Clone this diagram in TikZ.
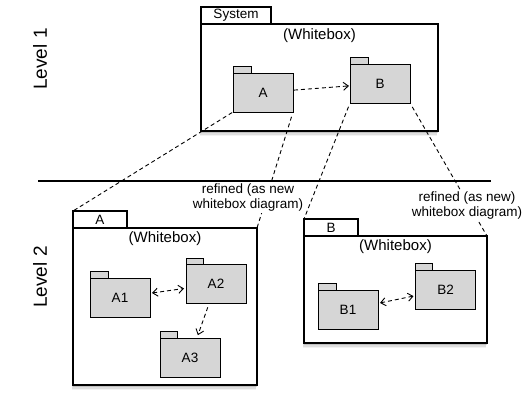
\documentclass[tikz,border=0pt]{standalone}
\usepackage{fontspec}
\setmainfont{Liberation Sans}
\usetikzlibrary{arrows.meta,shadows,calc}
\definecolor{pkggray}{RGB}{214,214,214}
\begin{document}
\begin{tikzpicture}[x=1pt,y=-1pt,
  pkgbody/.style={draw, fill=pkggray, line width=1pt, inner sep=0pt, outer sep=0pt,
    minimum width=60pt, minimum height=39pt, font=\fontsize{13.5}{14}\selectfont},
  pkgtab/.style={draw, fill=pkggray, line width=1pt},
  framebody/.style={draw, fill=white, line width=1.2pt, inner sep=0pt, outer sep=0pt, anchor=north west,
    drop shadow={shadow xshift=-1.5pt, shadow yshift=-5pt, opacity=0.10},
    drop shadow={shadow xshift=-1pt, shadow yshift=-3.5pt, opacity=0.18},
    drop shadow={shadow xshift=-0.5pt, shadow yshift=-2pt, opacity=0.30}},
  frametab/.style={draw, fill=white, line width=1.2pt, inner sep=0pt, outer sep=0pt, anchor=south west,
    minimum height=17pt, font=\fontsize{13.5}{14}\selectfont},
  wbox/.style={font=\fontsize{15}{16}\selectfont},
  level/.style={rotate=90, font=\fontsize{19}{20}\selectfont},
  refinelabel/.style={fill=white, align=center, inner sep=1.5pt, font=\fontsize{13.5}{15}\selectfont},
  refine/.style={line width=0.9pt, dash pattern=on 4pt off 3pt},
  dep/.style={line width=0.9pt, dash pattern=on 4pt off 3pt, -{Straight Barb[length=5pt,width=8pt]}},
  bidep/.style={line width=0.9pt, dash pattern=on 4pt off 3pt, {Straight Barb[length=5pt,width=8pt]}-{Straight Barb[length=5pt,width=8pt]}}
]
\useasboundingbox (0,0) rectangle (527,402);

% Level labels
\node[level] (lv1) at (40,59) {Level 1};
\node[level] (lv2) at (40,277) {Level 2};

% separator
\coordinate (hlL) at (38,181);
\coordinate (hlR) at (491,181);
\draw[line width=2pt] (hlL) -- (hlR);

% ---- System frame
\node[framebody, minimum width=237pt, minimum height=107pt] (sys) at (201,24) {};
\node[frametab, minimum width=70pt] (systab) at (sys.north west) {System};
\node[wbox] (syswb) at ($(sys.north)+(0,12)$) {(Whitebox)};
\node[pkgbody] (A) at (263,92.5) {A};
\draw[pkgtab] (A.north west) rectangle ++(18,-6.5);
\node[pkgbody] (B) at (380,83.5) {B};
\draw[pkgtab] (B.north west) rectangle ++(18,-6.5);
\draw[dep, shorten <=1pt, shorten >=1pt] (A) -- (B);

% ---- A frame
\node[framebody, minimum width=184pt, minimum height=157pt] (af) at (73,228) {};
\node[frametab, minimum width=54pt] (atab) at (af.north west) {A};
\node[wbox] (afwb) at ($(af.north)+(0,11)$) {(Whitebox)};
\node[pkgbody] (A1) at (120,297.5) {A1};
\draw[pkgtab] (A1.north west) rectangle ++(18,-6.5);
\node[pkgbody] (A2) at (216,284) {A2};
\draw[pkgtab] (A2.north west) rectangle ++(17,-6.5);
\node[pkgbody] (A3) at (190,357.5) {A3};
\draw[pkgtab] (A3.north west) rectangle ++(17,-6.5);
\draw[bidep, shorten <=2pt, shorten >=2pt] (A1) -- (A2);
\draw[dep, shorten <=4pt, shorten >=3pt] (A2) -- (A3);

% ---- B frame
\node[framebody, minimum width=183pt, minimum height=107pt] (bf) at (304,236) {};
\node[frametab, minimum width=54pt] (btab) at (bf.north west) {B};
\node[wbox] (bfwb) at ($(bf.north)+(0,10.5)$) {(Whitebox)};
\node[pkgbody] (B1) at (348,309.5) {B1};
\draw[pkgtab] (B1.north west) rectangle ++(18,-6.5);
\node[pkgbody] (B2) at (445.5,289.5) {B2};
\draw[pkgtab] (B2.north west) rectangle ++(17,-6.5);
\draw[bidep, shorten <=2pt, shorten >=2pt] (B1) -- (B2);

% ---- refinement connectors
\draw[refine, shorten <=1pt] (A.south west) -- (atab.north west);
\draw[refine, shorten <=5pt] (A.south east) -- (af.north east);
\draw[refine, shorten <=4pt] (B.south west) -- (btab.north west);
\draw[refine, shorten <=4.5pt] (B.south east) -- (bf.north east);

\node[refinelabel] (rl1) at (248,197.5) {refined (as new\\whitebox diagram)};
\node[refinelabel] (rl2) at (467,205.5) {refined (as new)\\whitebox diagram)};
\end{tikzpicture}
\end{document}
